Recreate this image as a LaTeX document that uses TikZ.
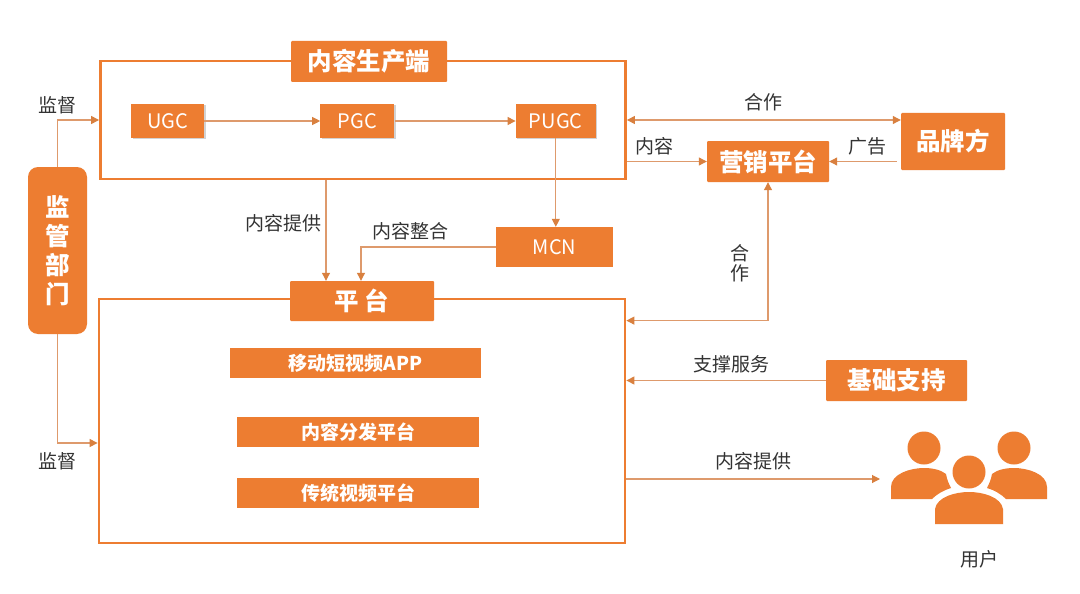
\documentclass[tikz,border=0pt]{standalone}
\usepackage{fontspec}
\setmainfont{Noto Sans CJK SC}
\usepackage{tikz}
\usetikzlibrary{arrows.meta, positioning, shadows}
\definecolor{boxorange}{HTML}{ED7D31}
\definecolor{linkorange}{HTML}{DE9A6C}
\definecolor{tiporange}{HTML}{D9803F}
\definecolor{labelgray}{HTML}{333333}

\begin{document}
\begin{tikzpicture}[
  x=1pt, y=-1pt,
  frame/.style={draw=boxorange, line width=2.8pt, inner sep=0pt},
  title/.style={fill=boxorange, text=white, rounded corners=1pt, inner sep=0pt, align=center, font=\fontsize{24.5}{29}\selectfont\bfseries},
  item/.style={fill=boxorange, text=white, inner sep=0pt, font=\fontsize{19}{22}\selectfont\bfseries},
  small/.style={fill=boxorange, text=white, inner sep=0pt, minimum height=34pt, font=\fontsize{20}{22}\selectfont},
  tag/.style={text=labelgray, inner sep=0pt, align=center, font=\fontsize{19}{20}\selectfont},
  arrow/.style={draw=linkorange, line width=1.1pt, -{Triangle[length=8pt, width=8pt, color=tiporange]}},
  twoway/.style={arrow, {Triangle[length=8pt, width=8pt, color=tiporange]}-{Triangle[length=8pt, width=8pt, color=tiporange]}},
  head/.style={circle, fill=boxorange, inner sep=0pt, minimum size=33pt},
]
  \path[use as bounding box, fill=white] (0,0) rectangle (1080,594);

  % frames first, titles sit on top
  \node[frame, minimum width=525pt, minimum height=118pt] (prodframe) at (363,120) {};
  \node[frame, minimum width=526pt, minimum height=244pt] (platframe) at (362,421) {};
  \node[title, minimum width=156pt, minimum height=41pt] (prodtitle) at (369,61.5) {内容生产端};
  \node[title, minimum width=144pt, minimum height=40pt] (plattitle) at (362,301) {平 台};

  % producers
  \node[small, minimum width=73pt, drop shadow={shadow xshift=1.5pt, shadow yshift=-1pt, opacity=.35}] (ugc) at (167.5,121) {UGC};
  \node[small, minimum width=74pt, right=116pt of ugc, drop shadow={shadow xshift=1.5pt, shadow yshift=-1pt, opacity=.35}] (pgc) {PGC};
  \node[small, minimum width=80pt, right=121pt of pgc, drop shadow={shadow xshift=1.5pt, shadow yshift=-1pt, opacity=.35}] (pugc) {PUGC};
  \node[small, minimum width=117pt, minimum height=40pt] (mcn) at (554.5,247) {MCN};

  % platform items
  \node[item, minimum width=251pt, minimum height=30pt] (mobile) at (355.5,363) {移动短视频APP};
  \node[item, minimum width=242pt, minimum height=30pt] (distrib) at (358,432) {内容分发平台};
  \node[item, minimum width=242pt, minimum height=30pt] (video) at (358,493) {传统视频平台};

  % outer boxes
  \node[title, rounded corners=10pt, minimum width=59pt, minimum height=167pt] (monitor) at (57.5,250.5) {监\\管\\部\\门};
  \node[title, minimum width=122pt, minimum height=41pt] (market) at (768,161.5) {营销平台};
  \node[title, minimum width=104pt, minimum height=57pt] (brand) at (953,141.5) {品牌方};
  \node[title, minimum width=141pt, minimum height=41pt] (base) at (896.5,380.5) {基础支持};

  % user icon
  \node[head] (heada) at (924,448) {};
  \node[head] (headb) at (1014,448) {};
  \node[head] (headc) at (969,472) {};
  \fill[boxorange] (891,499) -- (891,487) .. controls (891,474) and (910,468) .. (924,468) .. controls (933,468) and (941,470) .. (946,474) .. controls (947,480) and (949,484) .. (951,488) .. controls (944,490) and (937,494) .. (932,499) -- cycle;
  \fill[boxorange] (1047,499) -- (1047,487) .. controls (1047,474) and (1028,468) .. (1014,468) .. controls (1005,468) and (997,470) .. (992,474) .. controls (991,480) and (989,484) .. (987,488) .. controls (994,490) and (1001,494) .. (1006,499) -- cycle;
  \fill[boxorange] (935,524) -- (935,509) .. controls (937,497) and (955,492) .. (969,492) .. controls (983,492) and (1001,497) .. (1003,509) -- (1003,524) -- cycle;
  \coordinate (users) at (880,479);

  % connectors
  \draw[arrow] (monitor.north) |- (prodframe.west);
  \draw[arrow] (monitor.south) |- ([yshift=-22pt]platframe.west);
  \draw[arrow] (ugc) -- (pgc);
  \draw[arrow] (pgc) -- (pugc);
  \draw[arrow] (pugc.south) -- (pugc.south |- mcn.north);
  \draw[arrow] (prodframe.south -| 326,0) -- (326,0 |- plattitle.north);
  \draw[arrow] (mcn.west) -| ([xshift=-1pt]plattitle.north);
  \draw[twoway] (prodframe.east) -- (prodframe.east -| brand.west);
  \draw[arrow] (market.west -| prodframe.east) -- (market.west);
  \draw[arrow] ([xshift=-4pt]market.east -| brand.west) -- (market.east);
  \draw[twoway] (market.south) |- ([yshift=-23pt]platframe.north east);
  \draw[arrow] (base.west) -- (base.west -| platframe.east);
  \draw[arrow] ([yshift=-58pt]platframe.east) -- (users);

  % labels
  \node[tag] (tagmona) at (57,105) {监督};
  \node[tag] (tagmonb) at (57,461) {监督};
  \node[tag] (tagsupply) at (283,223) {内容提供};
  \node[tag] (tagmerge) at (410,231) {内容整合};
  \node[tag] (tagcoop) at (763,102) {合作};
  \node[tag] (tagcontent) at (654,146) {内容};
  \node[tag] (tagad) at (867,146) {广告};
  \node[tag] (tagcoopb) at (740,263) {合\\作};
  \node[tag] (tagserve) at (731,364) {支撑服务};
  \node[tag] (tagsupplyb) at (753,461) {内容提供};
  \node[tag] (taguser) at (979,559) {用户};
\end{tikzpicture}
\end{document}
